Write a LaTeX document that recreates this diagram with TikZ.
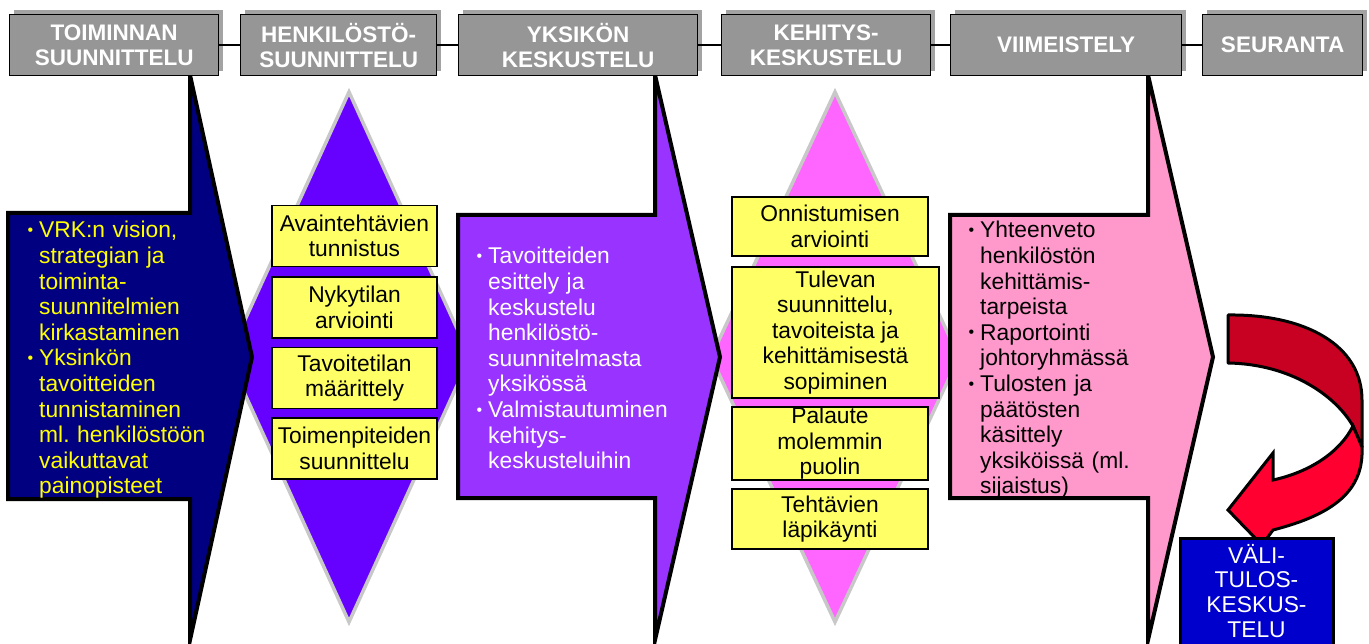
\documentclass[tikz,border=0pt]{standalone}
\usepackage{fontspec}
\setmainfont{Liberation Sans}
\usepackage{tikz}
\usetikzlibrary{shadows}

\definecolor{hdrgray}{HTML}{969696}
\definecolor{shdgray}{HTML}{A3A3A3}
\definecolor{navyarrow}{HTML}{000080}
\definecolor{purparrow}{HTML}{9933FF}
\definecolor{pinkarrow}{HTML}{FF99CC}
\definecolor{violetdiam}{HTML}{6600FF}
\definecolor{pinkdiam}{HTML}{FF66FF}
\definecolor{diamgray}{HTML}{C8C8C8}
\definecolor{yboxfill}{HTML}{FFFF66}
\definecolor{yelltext}{HTML}{FFFF00}
\definecolor{darkredturn}{HTML}{C80022}
\definecolor{redturn}{HTML}{FF0030}
\definecolor{valiblue}{HTML}{0000CC}

\newcommand{\bodyfont}{\fontsize{22.8}{25.6}\selectfont\frenchspacing}
\newcommand{\bul}{\leavevmode\llap{\raisebox{2.5pt}{\fontsize{16}{16}\selectfont\textbullet}\hspace{6pt}}}

\tikzset{
  hdr/.style={draw=black, line width=1.3pt, fill=hdrgray, text=white,
    font=\fontsize{22.5}{25}\selectfont\bfseries, align=center, inner sep=0pt,
    minimum height=61pt, anchor=north west,
    drop shadow={shadow xshift=4pt, shadow yshift=5pt, fill=shdgray, opacity=1}},
  ybox/.style={draw=black, line width=1.6pt, fill=yboxfill, font=\bodyfont,
    align=center, inner sep=0pt},
  bigarrow/.style={draw=black, line width=4pt},
  diam/.style={draw=diamgray, line width=3.5pt},
  arrtext/.style={font=\bodyfont, align=left, anchor=base west, inner sep=0pt,
    text width=215pt},
}

\begin{document}
\begin{tikzpicture}[x=1pt,y=-1pt]
	\useasboundingbox (0,0) rectangle (1369,644);

	% diamonds
	\draw[diam, fill=violetdiam] (349,92) -- (470,357) -- (349,622) -- (228,357) -- cycle;
	\draw[diam, fill=pinkdiam] (835,92) -- (959,357) -- (835,622) -- (711,357) -- cycle;

	% big arrows
	\draw[bigarrow, fill=navyarrow] (8,213) -- (190,213) -- (190,75) -- (252,357) -- (190,640) -- (190,499) -- (8,499) -- cycle;
	\draw[bigarrow, fill=purparrow] (458,215) -- (655,215) -- (655,75) -- (720,357) -- (655,640) -- (655,498) -- (458,498) -- cycle;
	\draw[bigarrow, fill=pinkarrow] (950,215) -- (1148,215) -- (1148,75) -- (1213,357) -- (1148,640) -- (1148,498) -- (950,498) -- cycle;

	\node[arrtext, text=yelltext] (plan) at (39,238)
	  {\bul VRK:n vision,\\strategian ja\\toiminta-\\suunnitelmien\\kirkastaminen\\
	   \bul Yksinkön\\tavoitteiden\\tunnistaminen\\ml. henkilöstöön\\vaikuttavat\\painopisteet};
	\node[arrtext, text=white] (unit) at (488,264)
	  {\bul Tavoitteiden\\esittely ja\\keskustelu\\henkilöstö-\\suunnitelmasta\\yksikössä\\
	   \bul Valmistautuminen\\kehitys-\\keskusteluihin};
	\node[arrtext, text=black] (final) at (980,238)
	  {\bul Yhteenveto\\henkilöstön\\kehittämis-\\tarpeista\\
	   \bul Raportointi\\johtoryhmässä\\
	   \bul Tulosten ja\\päätösten\\käsittely\\yksiköissä (ml.\\sijaistus)};

	% yellow boxes
	\node[ybox, minimum width=165pt, minimum height=61pt] (a1) at (354.5,236) {Avaintehtävien\\tunnistus};
	\node[ybox, minimum width=165pt, minimum height=61pt] (a2) at (354.5,307.5) {Nykytilan\\arviointi};
	\node[ybox, minimum width=165pt, minimum height=61pt] (a3) at (354.5,378) {Tavoitetilan\\määrittely};
	\node[ybox, minimum width=165pt, minimum height=61pt] (a4) at (354.5,448.5) {Toimenpiteiden\\suunnittelu};

	\node[ybox, minimum width=196pt, minimum height=59pt] (k1) at (830,226.5) {Onnistumisen\\arviointi};
	\node[ybox, minimum width=207pt, minimum height=131pt] (k2) at (835.5,332.5) {Tulevan\\suunnittelu,\\tavoiteista ja\\kehittämisestä\\sopiminen};
	\node[ybox, minimum width=196pt, minimum height=71pt] (k3) at (830,443.5) {Palaute\\molemmin\\puolin};
	\node[ybox, minimum width=196pt, minimum height=60pt] (k4) at (830,519) {Tehtävien\\läpikäynti};

	% turning arrow
	\draw[line width=3pt, fill=darkredturn, line join=round] (1228,315) .. controls (1305,314) and (1362,345) .. (1362,400)
	  -- (1362,447) -- (1353,426) .. controls (1335,395) and (1290,364) .. (1228,363) -- cycle;
	\draw[line width=3pt, fill=redturn] (1353,426) .. controls (1340,452) and (1310,472) .. (1273,480)
	  -- (1273,453) -- (1228,510) -- (1262,545) -- (1273,530)
	  .. controls (1335,514) and (1364,490) .. (1362,447) -- cycle;

	\node[draw=black, line width=3pt, fill=valiblue, inner sep=0pt, minimum width=153pt,
	  minimum height=114pt, anchor=north] (vali) at (1256.5,537) {};
	\node[text=white, font=\fontsize{22.8}{24.7}\selectfont, align=center, inner sep=0pt,
	  anchor=north] (valitxt) at ([yshift=-7pt]vali.north) {VÄLI-\\TULOS-\\KESKUS-\\TELU};

	% phase headers
	\node[hdr, minimum width=209pt] (h1) at (9,14) {TOIMINNAN\\SUUNNITTELU};
	\node[hdr, minimum width=196pt] (h2) at (240,14) {HENKILÖSTÖ-\\SUUNNITTELU};
	\node[hdr, minimum width=239pt] (h3) at (458,14) {YKSIKÖN\\KESKUSTELU};
	\node[hdr, minimum width=209pt] (h4) at (721,14) {KEHITYS-\\KESKUSTELU};
	\node[hdr, minimum width=231pt] (h5) at (950,14) {VIIMEISTELY};
	\node[hdr, minimum width=160pt] (h6) at (1202,14) {SEURANTA};
	\draw[line width=1.3pt] (h1) -- (h2);
	\draw[line width=1.3pt] (h2) -- (h3);
	\draw[line width=1.3pt] (h3) -- (h4);
	\draw[line width=1.3pt] (h4) -- (h5);
	\draw[line width=1.3pt] (h5) -- (h6);
\end{tikzpicture}
\end{document}
